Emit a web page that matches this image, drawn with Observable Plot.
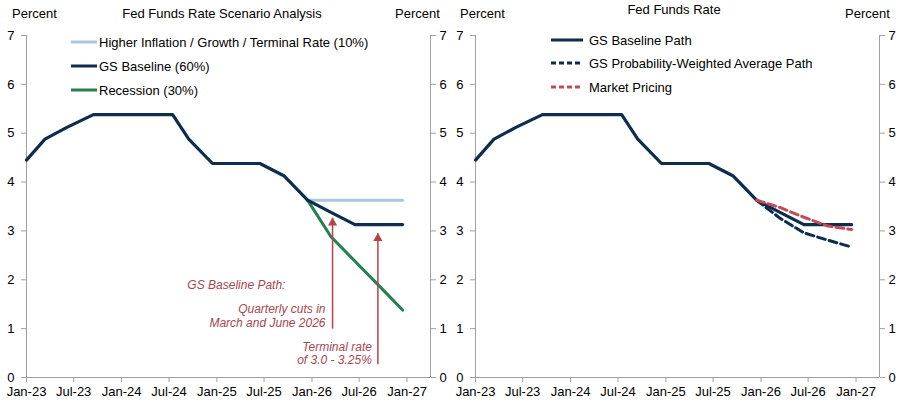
<!DOCTYPE html>
<html><head><meta charset="utf-8">
<script src="https://cdn.jsdelivr.net/npm/d3@7"></script>
<script src="https://cdn.jsdelivr.net/npm/@observablehq/plot@0.6"></script>
<style>
body{margin:0;background:#fff;font-family:"Liberation Sans",Arial,sans-serif;}
#wrap{position:relative;width:906px;height:407px;overflow:hidden;}
.panel{position:absolute;top:0;}
.lbl{position:absolute;font-size:13px;color:#000;white-space:nowrap;line-height:1;}
.leg{position:absolute;font-size:13px;color:#000;white-space:nowrap;display:flex;align-items:center;line-height:1;}
.leg svg{display:block;margin-right:2px;}
</style></head>
<body><div id="wrap"></div>
<script>
// ---- data ----
const yTicks = [0,1,2,3,4,5,6,7];
const baselineDates = ["2023-01-01","2023-03-13","2023-06-05","2023-09-15","2024-07-15","2024-09-15","2024-12-15","2025-06-15","2025-09-15","2025-12-15","2026-03-15","2026-06-15","2026-12-15"];
const baselineValues = [4.45,4.88,5.12,5.38,5.38,4.88,4.38,4.38,4.13,3.63,3.38,3.13,3.13];
const higherDates = ["2025-12-15","2026-12-15"];
const higherValues = [3.63,3.63];
const recessionDates = ["2025-12-15","2026-03-15","2026-06-15","2026-09-15","2026-12-15"];
const recessionValues = [3.63,2.88,2.38,1.88,1.38];
const probDates = ["2025-12-15","2026-03-15","2026-06-15","2026-09-15","2026-12-15"];
const probValues = [3.63,3.26,2.96,2.81,2.67];
const marketDates = ["2025-12-15","2026-03-15","2026-06-15","2026-09-15","2026-12-15"];
const marketValues = [3.63,3.48,3.28,3.10,3.03];
const leftLegend = ["Higher Inflation / Growth / Terminal Rate (10%)","GS Baseline (60%)","Recession (30%)"];
const rightLegend = ["GS Baseline Path","GS Probability-Weighted Average Path","Market Pricing"];
// annotations (data coordinates)
const noteTexts = ["GS Baseline Path:","Quarterly cuts in\nMarch and June 2026","Terminal rate\nof 3.0 - 3.25%"];
const noteDates = ["2025-09-21","2026-02-22","2026-08-19"];
const noteValues = [1.90,1.27,0.50];
const arrowDates = ["2026-03-21","2026-09-11"];
const arrowFrom = [1.00,0.27];
const arrowTo = [3.27,2.95];

const xDomain = [new Date("2023-01-01"), new Date("2027-04-01")];
const xTicks = d3.utcMonth.every(6).range(new Date("2023-01-01"), new Date("2027-02-01"));

const NAVY="#0c2d4e", LIGHT="#a9c7e1", GREEN="#23804f", RED="#c24b55", ARW="#b8414a", NOTE="#a8454f", AX="#a0a0a0";

const series = (dates, values) => dates.map((d,i)=>({date:new Date(d), value:values[i]}));
const baseline = series(baselineDates, baselineValues);

function axes(){
  return [
    Plot.ruleX([xDomain[0]], {stroke:AX, strokeWidth:1}),
    Plot.ruleX([xDomain[1]], {stroke:AX, strokeWidth:1}),
    Plot.ruleY([0], {stroke:AX, strokeWidth:1}),
    Plot.axisY(yTicks, {anchor:"left", label:null, tickSize:5, tickPadding:7, stroke:AX, fill:"#000", fontSize:13, tickFormat:d=>d}),
    Plot.axisY(yTicks, {anchor:"right", label:null, tickSize:5, tickPadding:4, stroke:AX, fill:"#000", fontSize:13, tickFormat:d=>d}),
    Plot.axisX(xTicks, {anchor:"bottom", label:null, tickSize:5, tickPadding:4, stroke:AX, fill:"#000", fontSize:13, tickFormat:d3.utcFormat("%b-%y")})
  ];
}

function panel(ml, mr, marks){
  return Plot.plot({
    width:453, height:407, marginTop:35, marginBottom:30, marginLeft:ml, marginRight:mr,
    style:{fontFamily:"'Liberation Sans', Arial, sans-serif", fontSize:"13px", background:"transparent", overflow:"visible"},
    x:{type:"utc", domain:xDomain, axis:null},
    y:{domain:[0,7], axis:null},
    marks:[...axes(), ...marks]
  });
}

const notes = noteTexts.map((t,i)=>({text:t, date:new Date(noteDates[i]), value:noteValues[i]}));
const arrows = arrowDates.map((d,i)=>({date:new Date(d), y1:arrowFrom[i], y2:arrowTo[i]}));

const left = panel(26, 23, [
  Plot.line(series(higherDates, higherValues), {x:"date", y:"value", stroke:LIGHT, strokeWidth:3}),
  Plot.line(series(recessionDates, recessionValues), {x:"date", y:"value", stroke:GREEN, strokeWidth:3}),
  Plot.line(baseline, {x:"date", y:"value", stroke:NAVY, strokeWidth:3.2}),
  Plot.link(arrows, {x1:"date", x2:"date", y1:"y1", y2:"y2", stroke:ARW, strokeWidth:1.5}),
  Plot.dot(arrows, {x:"date", y:"y2", symbol:"triangle", r:3.4, fill:ARW, stroke:null, dy:5}),
  Plot.text(notes, {x:"date", y:"value", text:"text", textAnchor:"end", lineAnchor:"middle", lineHeight:1.15, fontSize:12, fontStyle:"italic", fill:NOTE})
]);

const right = panel(22, 27, [
  Plot.line(baseline, {x:"date", y:"value", stroke:NAVY, strokeWidth:3.2}),
  Plot.line(series(probDates, probValues), {x:"date", y:"value", stroke:NAVY, strokeWidth:3, strokeDasharray:"8,4"}),
  Plot.line(series(marketDates, marketValues), {x:"date", y:"value", stroke:RED, strokeWidth:3, strokeDasharray:"8,4"})
]);

const wrap = document.getElementById("wrap");
left.classList.add("panel"); left.style.left="0px";
right.classList.add("panel"); right.style.left="453px";
wrap.appendChild(left); wrap.appendChild(right);

function label(text, x, y, anchor){
  const d = document.createElement("div");
  d.className="lbl"; d.textContent=text;
  d.style.top=(y-7)+"px";
  if(anchor==="middle"){ d.style.left=x+"px"; d.style.transform="translateX(-50%)"; }
  else d.style.left=x+"px";
  wrap.appendChild(d);
}
label("Percent", 12, 14, "start");
label("Fed Funds Rate Scenario Analysis", 222, 14, "middle");
label("Percent", 395, 14, "start");
label("Percent", 460, 14, "start");
label("Fed Funds Rate", 674, 10, "middle");
label("Percent", 845, 14, "start");

function legend(items, x, ys, sw, styles){
  items.forEach((t,i)=>{
    const d=document.createElement("div"); d.className="leg";
    d.style.left=x+"px"; d.style.top=(ys[i]-8)+"px"; d.style.height="16px";
    const s=styles[i];
    d.innerHTML=`<svg width="${sw}" height="16"><line x1="0" x2="${sw}" y1="8" y2="8" stroke="${s.c}" stroke-width="3" ${s.dash?`stroke-dasharray="${s.dash}"`:""}/></svg><span>${t}</span>`;
    if(s.gap) d.querySelector("svg").style.marginRight=s.gap+"px";
    wrap.appendChild(d);
  });
}
legend(leftLegend, 71, [42,66,90], 26, [{c:LIGHT},{c:NAVY},{c:GREEN}]);
legend(rightLegend, 551, [40,63,87], 32, [{c:NAVY,gap:6},{c:NAVY,dash:"5,3",gap:6},{c:RED,dash:"5,3",gap:6}]);
</script></body></html>
